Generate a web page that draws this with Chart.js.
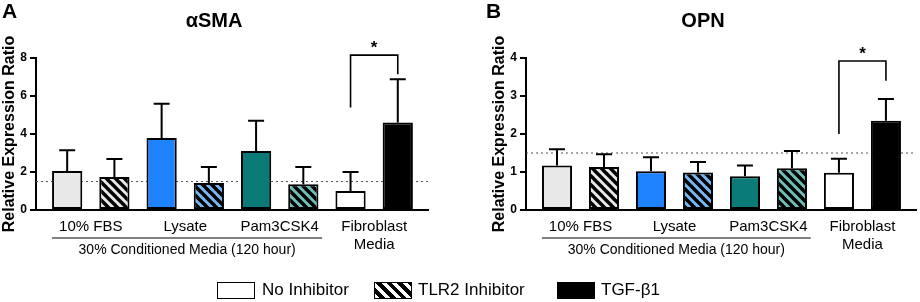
<!DOCTYPE html>
<html>
<head>
<meta charset="utf-8">
<script src="https://cdn.jsdelivr.net/npm/chart.js@4.4.1/dist/chart.umd.min.js"></script>
<style>
  html, body { margin: 0; padding: 0; background: #fff; }
  #wrap { position: relative; width: 920px; height: 302px; overflow: hidden; font-family: "Liberation Sans", Arial, sans-serif; }
  .panel { position: absolute; top: 0; width: 460px; height: 302px; }
  .lg-box { position: absolute; top: 282px; width: 36px; height: 15px; border: 1.5px solid #000; }
  .lg-text { position: absolute; top: 280px; font-size: 17px; line-height: 20px; color: #000; }
</style>
</head>
<body>
<div id="wrap">
  <div class="panel" style="left:0"><canvas id="chartA" width="460" height="302"></canvas></div>
  <div class="panel" style="left:460px"><canvas id="chartB" width="460" height="302"></canvas></div>

  <div class="lg-box" style="left:217px;background:#fff"></div>
  <div class="lg-text" style="left:262px">No Inhibitor</div>
  <div class="lg-box" style="left:374px;background:repeating-linear-gradient(45deg,#fff 0 3.5px,#000 3.5px 7.5px)"></div>
  <div class="lg-text" style="left:418px">TLR2 Inhibitor</div>
  <div class="lg-box" style="left:557px;background:#000"></div>
  <div class="lg-text" style="left:601px">TGF-β1</div>
</div>

<script>
// bar positions along the x axis (pairs per group)
const xPos = [1, 2, 3, 4, 5, 6, 7, 8];
const groupTicks = [1.5, 3.5, 5.5, 7.5];
const groupLabels = ['10% FBS', 'Lysate', 'Pam3CSK4', ['Fibroblast', 'Media']];
const spanLabel = '30% Conditioned Media (120 hour)';
const spanRange = [0.68, 6.4];

// αSMA
const asmaMean = [2.05, 1.74, 3.79, 1.42, 3.10, 1.35, 1.00, 4.60];
const asmaSD   = [1.10, 0.94, 1.80, 0.84, 1.60, 0.91, 1.00, 2.28];
const asmaBracket = { left: 5.4, right: 7.15, top: 8.15 };
const asmaTicks = [0, 2, 4, 6, 8];

// OPN
const opnMean = [1.17, 1.13, 1.02, 0.99, 0.89, 1.10, 0.98, 2.35];
const opnSD   = [0.43, 0.34, 0.37, 0.27, 0.28, 0.45, 0.37, 0.57];
const opnBracket = { left: 2.0, right: 3.4, top: 3.92 };
const opnTicks = [0, 1, 2, 3, 4];

const refLevel = 1.5;

const FONT = '"Liberation Sans", Arial, sans-serif';
const fills = ['#e8e8e8', '#e8e8e8', '#1e82ff', '#78b6f4', '#0a7b77', '#6fbfb8', '#ffffff', '#000000'];
const hatched = [false, true, false, true, false, true, false, false];

function hatch(color) {
  const tile = document.createElement('canvas');
  tile.width = 9; tile.height = 9;
  const c = tile.getContext('2d');
  c.fillStyle = color;
  c.fillRect(0, 0, 9, 9);
  c.strokeStyle = '#000';
  c.lineWidth = 3.4;
  for (let o = -9; o <= 9; o += 9) {
    c.beginPath();
    c.moveTo(o - 1, -1);
    c.lineTo(o + 10, 10);
    c.stroke();
  }
  return c.createPattern(tile, 'repeat');
}

function extras(letter, sd, bracket) {
  return {
    id: 'extras',
    beforeDatasetsDraw(chart) {
      const { ctx, chartArea, scales: { y } } = chart;
      const py = y.getPixelForValue(refLevel);
      ctx.save();
      ctx.strokeStyle = '#555';
      ctx.lineWidth = 1.2;
      ctx.setLineDash([2, 3]);
      ctx.beginPath();
      ctx.moveTo(chartArea.left, py);
      ctx.lineTo(chartArea.right, py);
      ctx.stroke();
      ctx.restore();
    },
    afterDatasetsDraw(chart) {
      const { ctx, chartArea, scales: { x, y } } = chart;
      const data = chart.data.datasets[0].data;
      ctx.save();
      ctx.strokeStyle = '#000';
      ctx.lineWidth = 2;
      // error bars (upper only)
      chart.getDatasetMeta(0).data.forEach((bar, i) => {
        const top = y.getPixelForValue(data[i].y + sd[i]);
        ctx.beginPath();
        ctx.moveTo(bar.x, bar.y);
        ctx.lineTo(bar.x, top);
        ctx.moveTo(bar.x - 8, top);
        ctx.lineTo(bar.x + 8, top);
        ctx.stroke();
      });
      // significance bracket
      const xl = x.getPixelForValue(7), xr = x.getPixelForValue(8);
      const yt = y.getPixelForValue(bracket.top);
      ctx.lineWidth = 1.6;
      ctx.beginPath();
      ctx.moveTo(xl, y.getPixelForValue(bracket.left));
      ctx.lineTo(xl, yt);
      ctx.lineTo(xr, yt);
      ctx.lineTo(xr, y.getPixelForValue(bracket.right));
      ctx.stroke();
      ctx.fillStyle = '#000';
      ctx.font = 'bold 17px ' + FONT;
      ctx.textAlign = 'center';
      ctx.textBaseline = 'middle';
      ctx.fillText('*', (xl + xr) / 2, yt - 7);
      // group span line and label
      const ly = chartArea.bottom + 28;
      ctx.lineWidth = 1;
      ctx.beginPath();
      ctx.moveTo(x.getPixelForValue(spanRange[0]), ly);
      ctx.lineTo(x.getPixelForValue(spanRange[1]), ly);
      ctx.stroke();
      ctx.font = '14px ' + FONT;
      ctx.fillText(spanLabel, (x.getPixelForValue(spanRange[0]) + x.getPixelForValue(spanRange[1])) / 2, ly + 12);
      // panel letter
      ctx.font = 'bold 21px ' + FONT;
      ctx.textAlign = 'left';
      ctx.textBaseline = 'top';
      ctx.fillText(letter, chart.options.layout.padding.left ? 26 : 2, 2);
      ctx.restore();
    }
  };
}

function makeChart(id, title, letter, mean, sd, bracket, ticks, padLeft, padRight) {
  const ctx = document.getElementById(id).getContext('2d');
  const colors = fills.map((f, i) => hatched[i] ? hatch(f) : f);
  return new Chart(ctx, {
    type: 'bar',
    data: {
      datasets: [{
        data: xPos.map((v, i) => ({ x: v, y: mean[i] })),
        backgroundColor: colors,
        borderColor: '#000',
        borderWidth: 2,
        borderSkipped: false,
        categoryPercentage: 0.8,
        barPercentage: 0.8
      }]
    },
    options: {
      responsive: false,
      animation: false,
      devicePixelRatio: 1,
      layout: { padding: { left: padLeft, right: padRight, top: 0, bottom: 0 } },
      plugins: {
        legend: { display: false },
        tooltip: { enabled: false },
        title: {
          display: true,
          text: title,
          color: '#000',
          font: { family: FONT, size: 20, weight: 'bold' },
          padding: { top: 9, bottom: 25 }
        }
      },
      scales: {
        x: {
          type: 'linear',
          offset: false,
          min: 0.34,
          max: 8.64,
          afterBuildTicks: s => { s.ticks = groupTicks.map(v => ({ value: v })); },
          afterFit: s => { s.height = 92; },
          grid: { display: false, drawTicks: false },
          border: { color: '#000', width: 2 },
          ticks: {
            autoSkip: false,
            maxRotation: 0,
            padding: 8,
            color: '#000',
            font: { family: FONT, size: 15 },
            callback: (v, i) => groupLabels[i]
          }
        },
        y: {
          min: 0,
          max: ticks[ticks.length - 1],
          afterBuildTicks: s => { s.ticks = ticks.map(v => ({ value: v })); },
          afterFit: s => { s.width = 36; },
          grid: { drawOnChartArea: false, drawTicks: true, tickLength: 6, color: '#000', lineWidth: 2 },
          border: { color: '#000', width: 2 },
          ticks: {
            padding: 3,
            color: '#000',
            font: { family: FONT, size: 12, weight: 'bold' }
          },
          title: {
            display: true,
            text: 'Relative Expression Ratio',
            color: '#000',
            padding: 0,
            font: { family: FONT, size: 16, weight: 'bold' }
          }
        }
      }
    },
    plugins: [extras(letter, sd, bracket)]
  });
}

makeChart('chartA', 'αSMA', 'A', asmaMean, asmaSD, asmaBracket, asmaTicks, 0, 32);
makeChart('chartB', 'OPN', 'B', opnMean, opnSD, opnBracket, opnTicks, 30, 4);
</script>
</body>
</html>
